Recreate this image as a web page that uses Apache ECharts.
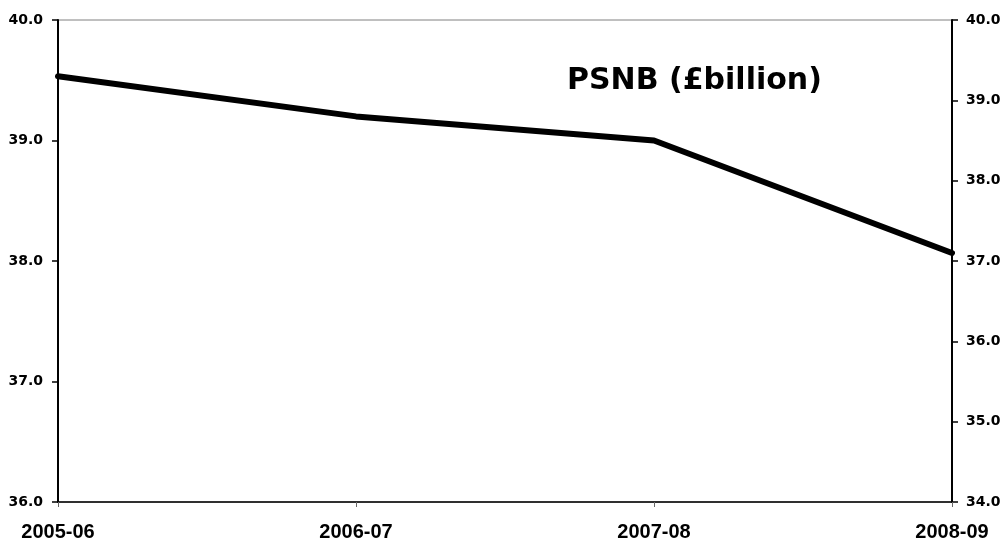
<!DOCTYPE html>
<html>
<head>
<meta charset="utf-8">
<script src="https://cdn.jsdelivr.net/npm/echarts@6/dist/echarts.min.js"></script>
<style>
html,body{margin:0;padding:0;background:#fff;}
#chart{width:1007px;height:544px;}
</style>
</head>
<body>
<div id="chart"></div>
<script>
// years on the x axis
var years=['2005-06','2006-07','2007-08','2008-09'];
// PSNB values, read against the right hand scale
var psnb=[39.3,38.8,38.5,37.1];
var titleText='PSNB (£billion)';

var myChart=echarts.init(document.getElementById('chart'));
var fmt=function(v){return v.toFixed(1);};

var option={
    backgroundColor:'#fff',
    animation:false,
    grid:{
        left:58,right:55,top:20,bottom:42,
        show:true,borderColor:'#808080',borderWidth:1
    },
    graphic:[{
        type:'text',
        left:567,top:66,
        style:{
            text:titleText,
            font:'bold 30px "DejaVu Sans"',
            fill:'#000'
        }
    }],
    xAxis:{
        type:'category',
        data:years,
        boundaryGap:false,
        axisLine:{lineStyle:{color:'#000',width:1.5}},
        axisTick:{show:true,length:5,lineStyle:{color:'#666',width:1}},
        axisLabel:{
            color:'#000',fontSize:20,fontWeight:'bold',
            fontFamily:'"Liberation Sans", Arial',margin:20,
            interval:0
        },
        splitLine:{show:false}
    },
    yAxis:[
        {//left scale
            type:'value',min:36,max:40,interval:1,
            position:'left',
            axisLine:{show:true,lineStyle:{color:'#000',width:2}},
            axisTick:{show:true,length:6,lineStyle:{color:'#000',width:1.5}},
            axisLabel:{
                color:'#000',fontSize:14,fontWeight:'bold',
                fontFamily:'"DejaVu Sans"',margin:15,formatter:fmt
            },
            splitLine:{show:false}
        },
        {//right scale
            type:'value',min:34,max:40,interval:1,
            position:'right',
            axisLine:{show:true,lineStyle:{color:'#000',width:2}},
            axisTick:{show:true,length:6,lineStyle:{color:'#000',width:1.5}},
            axisLabel:{
                color:'#000',fontSize:14,fontWeight:'bold',
                fontFamily:'"DejaVu Sans"',margin:14,formatter:fmt
            },
            splitLine:{show:false}
        }
    ],
    series:[{
        name:'PSNB',
        type:'line',
        yAxisIndex:1,
        data:psnb,
        showSymbol:false,
        lineStyle:{color:'#000',width:6,cap:'round',join:'round'}
    }]
};
myChart.setOption(option);
</script>
</body>
</html>
